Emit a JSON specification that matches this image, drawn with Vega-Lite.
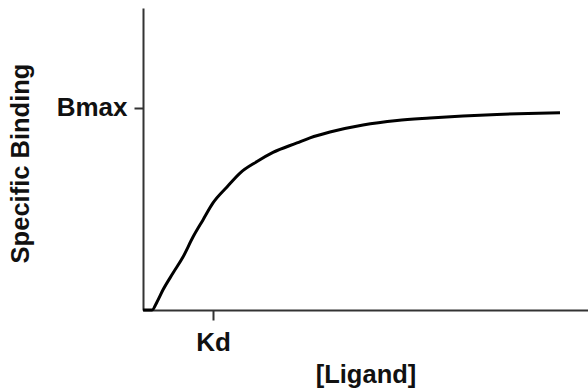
{
  "$schema": "https://vega.github.io/schema/vega-lite/v6.json",
  "width": 445,
  "height": 302,
  "autosize": "none",
  "padding": {"left": 143, "top": 8, "right": 0, "bottom": 78},
  "background": "white",
  "config": {"view": {"stroke": null}, "font": "Liberation Sans"},
  "data": {
    "values": [
      {"ligand": 0, "binding": 0},
      {"ligand": 0.129, "binding": 0},
      {"ligand": 0.2, "binding": 4},
      {"ligand": 0.286, "binding": 10},
      {"ligand": 0.429, "binding": 18.3},
      {"ligand": 0.571, "binding": 26.2},
      {"ligand": 0.714, "binding": 36.1},
      {"ligand": 0.857, "binding": 44.6},
      {"ligand": 1.0, "binding": 53},
      {"ligand": 1.2, "binding": 60.9},
      {"ligand": 1.386, "binding": 67.8},
      {"ligand": 1.629, "binding": 73.5},
      {"ligand": 1.857, "binding": 78},
      {"ligand": 2.2, "binding": 82.7},
      {"ligand": 2.386, "binding": 85.2},
      {"ligand": 2.671, "binding": 88.1},
      {"ligand": 3.143, "binding": 91.6},
      {"ligand": 3.629, "binding": 93.8},
      {"ligand": 4.1, "binding": 95},
      {"ligand": 4.571, "binding": 96},
      {"ligand": 5.057, "binding": 96.8},
      {"ligand": 5.5, "binding": 97.3},
      {"ligand": 5.957, "binding": 97.6}
    ]
  },
  "mark": {"type": "line", "color": "black", "strokeWidth": 3, "interpolate": "monotone", "clip": false},
  "encoding": {
    "x": {
      "field": "ligand",
      "type": "quantitative",
      "scale": {"domain": [0, 6.357], "nice": false, "zero": true},
      "axis": {
        "values": [1],
        "labelExpr": "'Kd'",
        "title": "[Ligand]",
        "grid": false,
        "domainColor": "#333333",
        "domainWidth": 2,
        "tickColor": "#333333",
        "tickWidth": 2,
        "tickSize": 10,
        "labelFont": "Liberation Sans",
        "labelFontWeight": "bold",
        "labelFontSize": 26,
        "labelColor": "#111111",
        "labelPadding": 9,
        "titleFont": "Liberation Sans",
        "titleFontWeight": "bold",
        "titleFontSize": 25.5,
        "titleColor": "#111111",
        "titleX": 222.5,
        "titleY": 72,
        "titleBaseline": "alphabetic"
      }
    },
    "y": {
      "field": "binding",
      "type": "quantitative",
      "scale": {"domain": [0, 149.5], "nice": false, "zero": true},
      "axis": {
        "values": [100],
        "labelExpr": "'Bmax'",
        "title": "Specific Binding",
        "grid": false,
        "domainColor": "#333333",
        "domainWidth": 2,
        "tickColor": "#333333",
        "tickWidth": 2,
        "tickSize": 9,
        "labelFont": "Liberation Sans",
        "labelFontWeight": "bold",
        "labelFontSize": 26,
        "labelColor": "#111111",
        "labelPadding": 7,
        "titleFont": "Liberation Sans",
        "titleFontWeight": "bold",
        "titleFontSize": 25.5,
        "titleColor": "#111111",
        "titleX": -115,
        "titleY": 155,
        "titleBaseline": "alphabetic"
      }
    }
  }
}
